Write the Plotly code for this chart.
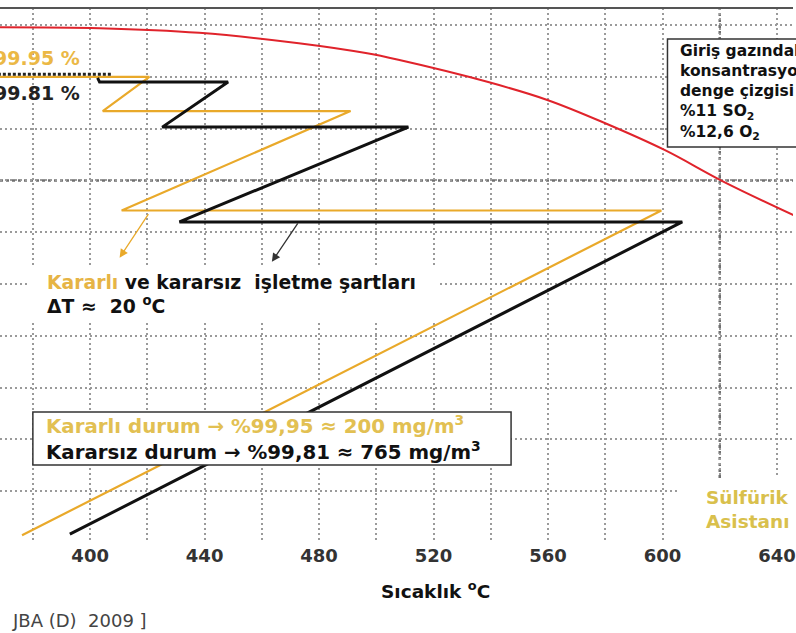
import plotly.graph_objects as go

# ---------------- data ----------------
tick_vals = [400, 440, 480, 520, 560, 600, 640]
tick_labels = ["400", "440", "480", "520", "560", "600", "640"]
grid_temps = list(range(380, 660, 20))
grid_conv = list(range(0, 101, 10))

# stable operation (yellow) adiabatic / cooling path: temperature (C), conversion (%)
stable_T = [376.2, 599.6, 411.0, 491.0, 404.4, 420.7, 366.0]
stable_X = [1.5, 64.2, 64.2, 83.4, 83.4, 90.0, 90.0]

# unstable operation (black) path
unstable_T = [392.9, 606.9, 431.2, 511.2, 425.2, 448.2, 403.3, 402.6]
unstable_X = [1.7, 62.0, 62.0, 80.3, 80.3, 89.0, 89.0, 89.8]

# 99.81 % reference (dotted black)
ref_T = [366.0, 407.8]
ref_X = [90.5, 90.5]

# equilibrium line, 11 % SO2 / 12.6 % O2
eq_T = [366.0, 403.3, 438.1, 472.9, 496.3, 507.7, 539.1, 560.0, 579.8, 600.7, 621.6, 647.0]
eq_X = [99.6, 99.4, 98.5, 96.5, 94.6, 93.3, 89.0, 85.5, 81.1, 75.9, 69.7, 63.0]

X_RANGE = [368.5, 645.6]
Y_RANGE = [0.0, 103.3]

YEL = "#E9A92A"
YEL_TXT = "#E2C052"
W, H = 796, 633
ML, MR, MT, MB = 0, 0, 8, 90


def px(xp):
    return xp / W


def py(yp):
    return (H - MB - yp) / (H - MB - MT)


fig = go.Figure()

fig.add_trace(go.Scatter(x=eq_T, y=eq_X, mode="lines", line=dict(color="#E0232B", width=2, shape="spline"),
                         hoverinfo="skip", showlegend=False))
fig.add_trace(go.Scatter(x=stable_T, y=stable_X, mode="lines", line=dict(color=YEL, width=2.2),
                         hoverinfo="skip", showlegend=False))
fig.add_trace(go.Scatter(x=unstable_T, y=unstable_X, mode="lines", line=dict(color="#111111", width=3),
                         hoverinfo="skip", showlegend=False))
fig.add_trace(go.Scatter(x=ref_T, y=ref_X, mode="lines", line=dict(color="#222222", width=3, dash="3px,2px"),
                         hoverinfo="skip", showlegend=False))

gridc = "#9a9a9a"
fig.update_xaxes(range=X_RANGE, tickmode="array", tickvals=grid_temps,
                 ticktext=[tick_labels[tick_vals.index(t)] if t in tick_vals else "" for t in grid_temps],
                 showgrid=True, gridcolor=gridc, griddash="2px,3px", gridwidth=1.5,
                 zeroline=False, showline=False, ticks="", ticklabeloverflow="allow",
                 tickfont=dict(family="DejaVu Sans", size=18, color="#333333", weight="bold"))
fig.update_yaxes(range=Y_RANGE, tickmode="array", tickvals=grid_conv, showticklabels=False,
                 showgrid=True, gridcolor=gridc, griddash="2px,3px", gridwidth=1.5,
                 zeroline=False, showline=False, ticks="")

shapes = [
    # top border line
    dict(type="line", xref="paper", yref="paper", x0=0, x1=1, y0=py(8), y1=py(8),
         line=dict(color="#555555", width=2)),
    # stronger grid line at 70 %
    dict(type="line", xref="paper", yref="y", x0=0, x1=1, y0=70, y1=70, layer="below",
         line=dict(color="#707070", width=2.5, dash="3px,3px")),
    # stronger grid line at 620 C
    dict(type="line", xref="x", yref="paper", x0=620, x1=620, y0=py(478), y1=1, layer="below",
         line=dict(color="#707070", width=2.5, dash="3px,3px")),
    # white areas behind the text blocks (no data lines pass there)
    dict(type="rect", xref="paper", yref="paper", x0=px(30), x1=px(440), y0=py(320), y1=py(266),
         fillcolor="white", line=dict(width=0), layer="above"),
    dict(type="rect", xref="paper", yref="paper", x0=px(680), x1=1, y0=0, y1=py(478),
         fillcolor="white", line=dict(width=0), layer="above"),
    # legend-like box
    dict(type="rect", xref="paper", yref="paper", x0=px(33), x1=px(513), y0=py(465), y1=py(412),
         fillcolor="white", line=dict(color="#333333", width=1.5), layer="above"),
    # equilibrium note box
    dict(type="rect", xref="paper", yref="paper", x0=px(670), x1=px(810), y0=py(147), y1=py(39),
         fillcolor="white", line=dict(color="#333333", width=1.5), layer="above"),
]

tfont = "DejaVu Sans"
ann = [
    dict(xref="paper", yref="paper", x=px(82), y=py(58), xanchor="right", yanchor="middle",
         text="99.95 %", showarrow=False,
         font=dict(family="DejaVu Sans", size=19, color="#EBB845", weight="bold")),
    dict(xref="paper", yref="paper", x=px(82), y=py(93), xanchor="right", yanchor="middle",
         text="99.81 %", showarrow=False,
         font=dict(family="DejaVu Sans", size=19, color="#222222", weight="bold")),
    dict(xref="paper", yref="paper", x=px(45), y=py(283), xanchor="left", yanchor="middle",
         text="<span style='color:#E6B445'>Kararlı</span> ve kararsız  işletme şartları", showarrow=False,
         font=dict(family=tfont, size=18.8, color="#111111", weight="bold")),
    dict(xref="paper", yref="paper", x=px(45), y=py(305), xanchor="left", yanchor="middle",
         text="ΔT ≈  20 <sup>o</sup>C", showarrow=False,
         font=dict(family=tfont, size=18.8, color="#111111", weight="bold")),
    dict(xref="paper", yref="paper", x=px(44), y=py(438), xanchor="left", yanchor="middle",
         text=("<span style='color:" + YEL_TXT + "'>Kararlı durum → %99,95 ≈ 200 mg/m<sup>3</sup></span><br>"
               "Kararsız durum → %99,81 ≈ 765 mg/m<sup>3</sup>"),
         align="left", showarrow=False,
         font=dict(family=tfont, size=19.8, color="#111111", weight="bold")),
    dict(xref="paper", yref="paper", x=px(681), y=py(92), xanchor="left", yanchor="middle",
         text=("Giriş gazındaki<br>konsantrasyonu<br>denge çizgisi<br>%11 SO<sub>2</sub><br>"
               "%12,6 O<sub>2</sub>"),
         align="left", showarrow=False,
         font=dict(family=tfont, size=15.5, color="#111111", weight="bold")),
    dict(xref="paper", yref="paper", x=px(707), y=py(509), xanchor="left", yanchor="middle",
         text="Sülfürik<br>Asistanı", align="left", showarrow=False,
         font=dict(family=tfont, size=18.5, color="#D9C04C", weight="bold")),
    dict(xref="paper", yref="paper", x=px(437), y=py(590), xanchor="center", yanchor="middle",
         text="Sıcaklık <sup>o</sup>C", showarrow=False,
         font=dict(family=tfont, size=18.5, color="#111111", weight="bold")),
    dict(xref="paper", yref="paper", x=px(10), y=py(620), xanchor="left", yanchor="middle",
         text="JBA (D)  2009 ]", showarrow=False,
         font=dict(family="DejaVu Sans", size=18, color="#444444")),
    # arrows
    dict(x=410.3, y=55.1, ax=420.7, ay=63.8, xref="x", yref="y", axref="x", ayref="y",
         text="", showarrow=True, arrowhead=2, arrowsize=1.3, arrowwidth=1.3, arrowcolor=YEL),
    dict(x=463.5, y=54.3, ax=472.9, ay=62.0, xref="x", yref="y", axref="x", ayref="y",
         text="", showarrow=True, arrowhead=2, arrowsize=1.3, arrowwidth=1.3, arrowcolor="#333333"),
]

fig.update_layout(width=W, height=H, margin=dict(l=ML, r=MR, t=MT, b=MB, pad=0),
                  paper_bgcolor="white", plot_bgcolor="white",
                  shapes=shapes, annotations=ann, showlegend=False)

fig.write_html("out.html", config={"displayModeBar": False},
               post_script="document.body.style.margin='0px';")
